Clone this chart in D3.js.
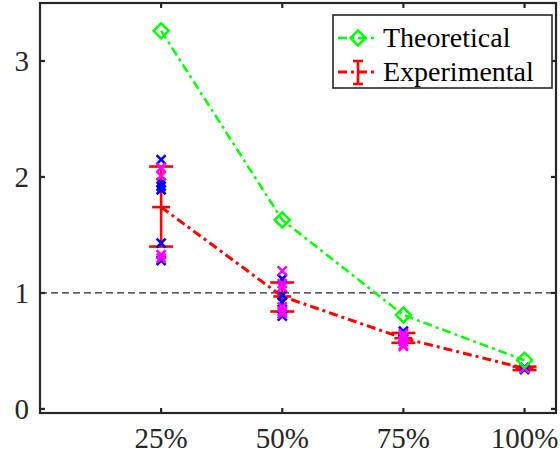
<!DOCTYPE html>
<html>
<head>
<meta charset="utf-8">
<script src="https://cdn.jsdelivr.net/npm/d3@7"></script>
<style>
  body { margin: 0; background: #fff; }
  svg text { font-family: "Liberation Serif", "DejaVu Serif", serif; fill: #262626; }
</style>
</head>
<body>
<svg id="chart" width="560" height="462"></svg>
<script>
// data
var levels = [0.25, 0.5, 0.75, 1.0];
var levelLabels = ["25%", "50%", "75%", "100%"];
var yTicks = [0, 1, 2, 3];
var theoretical = [3.26, 1.63, 0.81, 0.42];
var expMean = [1.74, 0.97, 0.61, 0.35];
var expLow = [1.40, 0.84, 0.57, 0.335];
var expHigh = [2.09, 1.09, 0.655, 0.365];
var bluePts = [
  [2.15, 1.95, 1.92, 1.89, 1.43, 1.28],
  [1.12, 0.98, 0.92, 0.80],
  [0.67, 0.60],
  [0.36, 0.34, 0.35]
];
var magentaPts = [
  [2.08, 2.01, 1.33, 1.30],
  [1.19, 1.08, 1.05, 0.88, 0.84, 0.82],
  [0.65, 0.62, 0.58, 0.55, 0.54],
  [0.35]
];
var refLine = 1;

var svg = d3.select("#chart");
var plotL = 40, plotR = 556, plotT = 3, plotB = 413;
var axisColor = "#262626";
var serif = "'Liberation Serif', 'DejaVu Serif', serif";
var green = "#00ff00";

var x = d3.scaleLinear().domain([0, 1.065]).range([plotL, plotR]);
var y = d3.scaleLinear().domain([-0.035, 3.5]).range([plotB, plotT]);

// reference line at 1
svg.append("line")
    .attr("x1", plotL).attr("x2", plotR)
    .attr("y1", y(refLine)).attr("y2", y(refLine))
    .attr("stroke", "#262626").attr("stroke-width", 1.3)
    .attr("stroke-dasharray", "7,4");

var dashDot = "9,4,3,4";

var line = d3.line()
    .x(function(d, i) { return x(levels[i]); })
    .y(function(d) { return y(d); });

// theoretical line
svg.append("path")
    .datum(theoretical)
    .attr("d", line)
    .attr("fill", "none").attr("stroke", green).attr("stroke-width", 2.5)
    .attr("stroke-dasharray", dashDot);

// experimental line
svg.append("path")
    .datum(expMean)
    .attr("d", line)
    .attr("fill", "none").attr("stroke", "#ff0000").attr("stroke-width", 3)
    .attr("stroke-dasharray", dashDot);

// error bars
var eb = svg.append("g").attr("stroke", "#ff0000").attr("stroke-width", 2.6);
levels.forEach(function(l, i) {
  var cx = x(l);
  eb.append("line").attr("x1", cx).attr("x2", cx).attr("y1", y(expLow[i])).attr("y2", y(expHigh[i]));
  eb.append("line").attr("x1", cx - 12).attr("x2", cx + 12).attr("y1", y(expLow[i])).attr("y2", y(expLow[i]));
  eb.append("line").attr("x1", cx - 12).attr("x2", cx + 12).attr("y1", y(expHigh[i])).attr("y2", y(expHigh[i]));
  eb.append("line").attr("x1", cx - 9).attr("x2", cx + 9).attr("y1", y(expMean[i])).attr("y2", y(expMean[i]));
});

// scatter crosses
function crosses(pts, color) {
  var g = svg.append("g").attr("stroke", color).attr("stroke-width", 2.6);
  pts.forEach(function(list, i) {
    list.forEach(function(v) {
      var cx = x(levels[i]), cy = y(v), s = 4.5;
      g.append("path").attr("d", "M" + (cx - s) + "," + (cy - s) + "L" + (cx + s) + "," + (cy + s) +
        "M" + (cx - s) + "," + (cy + s) + "L" + (cx + s) + "," + (cy - s));
    });
  });
}
crosses(bluePts, "#0000ff");
crosses(magentaPts, "#ff00ff");

// diamonds
function diamond(g, cx, cy, r) {
  g.append("path")
    .attr("d", "M" + cx + "," + (cy - r) + "L" + (cx + r) + "," + cy + "L" + cx + "," + (cy + r) + "L" + (cx - r) + "," + cy + "Z")
    .attr("fill", "none").attr("stroke", green).attr("stroke-width", 2.5);
}
var dg = svg.append("g");
theoretical.forEach(function(v, i) { diamond(dg, x(levels[i]), y(v), 7.5); });

// axes box
svg.append("rect")
    .attr("x", plotL).attr("y", plotT).attr("width", plotR - plotL).attr("height", plotB - plotT)
    .attr("fill", "none").attr("stroke", axisColor).attr("stroke-width", 2.2);

var ticks = svg.append("g").attr("stroke", axisColor).attr("stroke-width", 2.2);
levels.forEach(function(l) {
  ticks.append("line").attr("x1", x(l)).attr("x2", x(l)).attr("y1", plotB).attr("y2", plotB - 5);
  ticks.append("line").attr("x1", x(l)).attr("x2", x(l)).attr("y1", plotT).attr("y2", plotT + 5);
});
yTicks.forEach(function(t) {
  ticks.append("line").attr("x1", plotL).attr("x2", plotL + 5).attr("y1", y(t)).attr("y2", y(t));
  ticks.append("line").attr("x1", plotR).attr("x2", plotR - 5).attr("y1", y(t)).attr("y2", y(t));
});

svg.selectAll(".xl")
  .data(levelLabels)
  .enter().append("text")
    .attr("x", function(d, i) { return x(levels[i]); })
    .attr("y", 448)
    .attr("text-anchor", "middle")
    .attr("font-family", serif)
    .style("font-family", serif)
    .style("font-size", "29px")
    .text(function(d) { return d; });

svg.selectAll(".yl")
  .data(yTicks)
  .enter().append("text")
    .attr("x", 29)
    .attr("y", function(d) { return y(d); })
    .attr("dy", "0.35em")
    .attr("text-anchor", "end")
    .style("font-family", serif)
    .style("font-size", "29px")
    .text(function(d) { return d; });

// legend
var lg = svg.append("g");
lg.append("rect").attr("x", 333).attr("y", 15).attr("width", 219).attr("height", 73)
  .attr("fill", "#fff").attr("stroke", axisColor).attr("stroke-width", 1.6);

lg.append("line").attr("x1", 338).attr("x2", 378).attr("y1", 38).attr("y2", 38)
  .attr("stroke", green).attr("stroke-width", 2.5).attr("stroke-dasharray", dashDot);
diamond(lg, 358, 38, 7.5);
lg.append("line").attr("x1", 338).attr("x2", 378).attr("y1", 72).attr("y2", 72)
  .attr("stroke", "#ff0000").attr("stroke-width", 3).attr("stroke-dasharray", dashDot);
lg.append("line").attr("x1", 358).attr("x2", 358).attr("y1", 61).attr("y2", 84)
  .attr("stroke", "#ff0000").attr("stroke-width", 2.6);
lg.append("line").attr("x1", 353).attr("x2", 363).attr("y1", 61).attr("y2", 61)
  .attr("stroke", "#ff0000").attr("stroke-width", 2.6);
lg.append("line").attr("x1", 353).attr("x2", 363).attr("y1", 84).attr("y2", 84)
  .attr("stroke", "#ff0000").attr("stroke-width", 2.6);

lg.append("text").attr("x", 383).attr("y", 47).style("font-family", serif).style("font-size", "28px").style("fill", "#000").text("Theoretical");
lg.append("text").attr("x", 383).attr("y", 81).style("font-family", serif).style("font-size", "28px").style("fill", "#000").text("Experimental");
</script>
</body>
</html>
